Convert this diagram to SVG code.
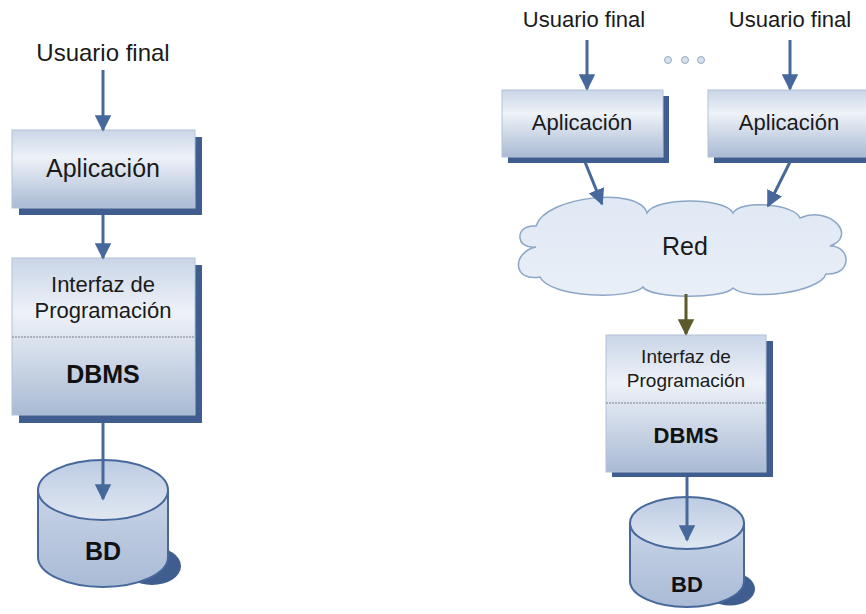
<svg xmlns="http://www.w3.org/2000/svg" width="866" height="614" viewBox="0 0 866 614">
  <defs>
    <linearGradient id="boxFill" x1="0" y1="0" x2="0" y2="1">
      <stop offset="0" stop-color="#c9d5e7"/>
      <stop offset="0.35" stop-color="#eef2f8"/>
      <stop offset="1" stop-color="#a9bad4"/>
    </linearGradient>
    <linearGradient id="cylBody" x1="0" y1="0" x2="0" y2="1">
      <stop offset="0" stop-color="#c8d4e7"/>
      <stop offset="1" stop-color="#aabbd6"/>
    </linearGradient>
    <linearGradient id="cylTop" x1="0" y1="0" x2="0" y2="1">
      <stop offset="0" stop-color="#bccbe2"/>
      <stop offset="1" stop-color="#e0e7f2"/>
    </linearGradient>
    <linearGradient id="cloudFill" x1="0" y1="0" x2="0" y2="1">
      <stop offset="0" stop-color="#dfe8f4"/>
      <stop offset="1" stop-color="#e9eff7"/>
    </linearGradient>
    <marker id="head" viewBox="0 0 10 10" refX="9" refY="5" markerWidth="5.5" markerHeight="5.5" orient="auto" markerUnits="strokeWidth">
      <path d="M0,0 L10,5 L0,10 z" fill="#46689b"/>
    </marker>
    <marker id="headOlive" viewBox="0 0 10 10" refX="9" refY="5" markerWidth="5.5" markerHeight="5.5" orient="auto" markerUnits="strokeWidth">
      <path d="M0,0 L10,5 L0,10 z" fill="#5a5a2c"/>
    </marker>
  </defs>
  <style>
    .shadow { fill: #3f5d8e; }
    .box { fill: url(#boxFill); stroke: #b4c2d8; stroke-width: 1; }
    .divider { stroke: #7b7f86; stroke-width: 1; stroke-dasharray: 2 1; }
    .cyl { fill: url(#cylBody); stroke: #46689b; stroke-width: 2; }
    .cyltop { fill: url(#cylTop); stroke: #46689b; stroke-width: 2; }
    .arrow { stroke: #46689b; stroke-width: 3; fill: none; marker-end: url(#head); }
    .arrowOlive { stroke: #5a5a2c; stroke-width: 3; fill: none; marker-end: url(#headOlive); }
    .cloud { fill: url(#cloudFill); stroke: #8ca6c8; stroke-width: 1.5; }
    .dot { fill: #d6e0ee; stroke: #9aabc2; stroke-width: 1; }
    text { font-family: "Liberation Sans", Arial, sans-serif; fill: #1a1a1a; text-anchor: middle; }
    .b { font-weight: bold; fill: #111; }
  </style>

  <!-- left stack: single user, local DBMS -->
  <g id="user-left">
    <text x="103" y="61" font-size="24">Usuario final</text>
  </g>

  <g id="app-left">
    <rect class="shadow" x="19" y="137" width="183" height="78"/>
    <rect class="box" x="12" y="130" width="183" height="78"/>
    <text x="103" y="177" font-size="25">Aplicación</text>
  </g>

  <g id="dbms-left">
    <rect class="shadow" x="19" y="265" width="183" height="158"/>
    <rect class="box" x="12" y="258" width="183" height="157"/>
    <line class="divider" x1="12" y1="337" x2="195" y2="337"/>
    <text x="103" y="292" font-size="22">Interfaz de</text>
    <text x="103" y="318" font-size="22">Programación</text>
    <text class="b" x="103" y="383" font-size="25">DBMS</text>
  </g>

  <g id="db-left">
    <ellipse class="shadow" cx="152" cy="566" rx="29" ry="19"/>
    <path class="cyl" d="M38,490 L38,557 A65,30 0 0 0 168,557 L168,490 Z"/>
    <ellipse class="cyltop" cx="103" cy="490" rx="65" ry="30"/>
    <text class="b" x="103" y="560" font-size="25">BD</text>
  </g>

  <!-- right stack: many users over a network -->
  <g id="user-right-1">
    <text x="584" y="27" font-size="22">Usuario final</text>
  </g>
  <g id="user-right-2">
    <text x="790" y="27" font-size="22">Usuario final</text>
  </g>

  <g id="ellipsis">
    <circle class="dot" cx="668" cy="60" r="3.5"/>
    <circle class="dot" cx="685" cy="60" r="3.5"/>
    <circle class="dot" cx="701" cy="60" r="3.5"/>
  </g>

  <g id="app-right-1">
    <rect class="shadow" x="508" y="96" width="161" height="67"/>
    <rect class="box" x="502" y="90" width="161" height="67"/>
    <text x="582" y="130" font-size="22">Aplicación</text>
  </g>

  <g id="app-right-2">
    <rect class="shadow" x="714" y="96" width="161" height="67"/>
    <rect class="box" x="708" y="90" width="161" height="67"/>
    <text x="789" y="130" font-size="22">Aplicación</text>
  </g>

  <g id="network">
    <path class="cloud" d="M536,226 C545,196 640,186 647,213 C655,197 725,197 733,213 C740,199 795,204 800,218 C830,205 858,236 830,246 C852,246 852,276 826,274 C820,292 750,302 733,288 C725,299 650,299 643,287 C630,300 550,298 540,277 C512,282 512,252 536,247 C515,250 514,224 536,226 Z"/>
    <text x="685" y="255" font-size="25">Red</text>
  </g>

  <g id="dbms-right">
    <rect class="shadow" x="612" y="341" width="161" height="136"/>
    <rect class="box" x="606" y="335" width="160" height="137"/>
    <line class="divider" x1="606" y1="403" x2="766" y2="403"/>
    <text x="686" y="363" font-size="19">Interfaz de</text>
    <text x="686" y="387" font-size="19">Programación</text>
    <text class="b" x="686" y="443" font-size="22">DBMS</text>
  </g>

  <g id="db-right">
    <ellipse class="shadow" cx="730" cy="589" rx="25" ry="16.5"/>
    <path class="cyl" d="M630,523 L630,581 A57,26 0 0 0 744,581 L744,523 Z"/>
    <ellipse class="cyltop" cx="687" cy="523" rx="57" ry="26"/>
    <text class="b" x="687" y="592" font-size="22">BD</text>
  </g>

  <g id="connectors">
    <line class="arrow" x1="103" y1="70" x2="103" y2="130"/>
    <line class="arrow" x1="103" y1="215" x2="103" y2="258"/>
    <line class="arrow" x1="103" y1="423" x2="103" y2="499"/>
    <line class="arrow" x1="587" y1="40" x2="587" y2="89"/>
    <line class="arrow" x1="790" y1="40" x2="790" y2="89"/>
    <line class="arrow" x1="585" y1="162" x2="602" y2="204"/>
    <line class="arrow" x1="790" y1="162" x2="768" y2="206"/>
    <line class="arrowOlive" x1="686" y1="294" x2="686" y2="334"/>
    <line class="arrow" x1="687" y1="477" x2="687" y2="540"/>
  </g>
</svg>
